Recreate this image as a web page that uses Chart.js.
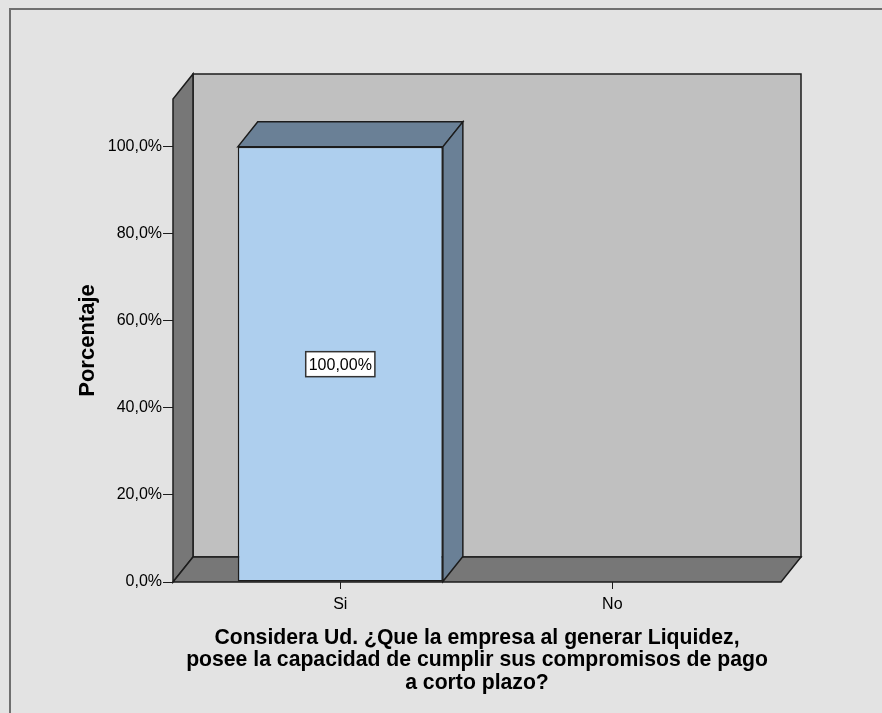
<!DOCTYPE html>
<html>
<head>
<meta charset="utf-8">
<script src="https://cdn.jsdelivr.net/npm/chart.js@4/dist/chart.umd.min.js"></script>
<style>
  html, body { margin: 0; padding: 0; background: #e3e3e3; overflow: hidden; }
  canvas { display: block; }
</style>
</head>
<body>
<canvas id="chart" width="882" height="713"></canvas>
<script>
// Survey answers and their share of respondents
const categories = ['Si', 'No'];
const percentages = [100, 0];
const yTickValues = [0, 20, 40, 60, 80, 100];
const yAxisTitle = 'Porcentaje';
const xAxisTitle = [
  'Considera Ud. ¿Que la empresa al generar Liquidez,',
  'posee la capacidad de cumplir sus compromisos de pago',
  'a corto plazo?'
];

// Depth of the 3D box and bars (pixels to the right / upwards)
const DX = 20, DY = 25;
const EDGE = '#1c1c1c';

const formatPct = (v, digits) => v.toFixed(digits).replace('.', ',') + '%';

function polygon(ctx, pts, fill) {
  ctx.beginPath();
  ctx.moveTo(pts[0][0], pts[0][1]);
  for (let i = 1; i < pts.length; i++) ctx.lineTo(pts[i][0], pts[i][1]);
  ctx.closePath();
  ctx.fillStyle = fill;
  ctx.fill();
  ctx.stroke();
}

const box3d = {
  id: 'box3d',
  beforeDraw(chart) {
    const { ctx, width, height } = chart;
    ctx.save();
    ctx.fillStyle = '#e3e3e3';
    ctx.fillRect(0, 0, width, height);
    // frame of the output panel (left and top edges)
    ctx.strokeStyle = '#6f6f6f';
    ctx.lineWidth = 2;
    ctx.beginPath();
    ctx.moveTo(10, height);
    ctx.lineTo(10, 9);
    ctx.lineTo(width, 9);
    ctx.stroke();
    ctx.restore();
  },
  beforeDatasetsDraw(chart) {
    const { ctx, chartArea: a } = chart;
    const L = a.left, R = a.right, T = a.top, B = a.bottom;
    ctx.save();
    ctx.lineJoin = 'miter';
    ctx.lineWidth = 1.5;
    ctx.strokeStyle = EDGE;
    // back wall
    polygon(ctx, [[L + DX, T - DY], [R + DX, T - DY], [R + DX, B - DY], [L + DX, B - DY]], '#c0c0c0');
    // left wall
    polygon(ctx, [[L, B], [L, T], [L + DX, T - DY], [L + DX, B - DY]], '#777777');
    // floor
    polygon(ctx, [[L, B], [L + DX, B - DY], [R + DX, B - DY], [R, B]], '#777777');
    ctx.restore();
  },
  afterDatasetsDraw(chart) {
    const { ctx } = chart;
    const meta = chart.getDatasetMeta(0);
    ctx.save();
    ctx.lineJoin = 'miter';
    ctx.lineWidth = 1.5;
    ctx.strokeStyle = EDGE;
    meta.data.forEach((bar, i) => {
      const v = percentages[i];
      if (!v) return;
      const { x, y, base, width } = bar.getProps(['x', 'y', 'base', 'width'], true);
      const l = x - width / 2, r = x + width / 2;
      // top face
      polygon(ctx, [[l, y], [l + DX, y - DY], [r + DX, y - DY], [r, y]], '#6a8096');
      // right side face
      polygon(ctx, [[r, y], [r + DX, y - DY], [r + DX, base - DY], [r, base]], '#6a8096');
    });
    // value labels in white boxes
    ctx.font = '16px "Liberation Sans", Arial, sans-serif';
    ctx.textAlign = 'center';
    ctx.textBaseline = 'middle';
    meta.data.forEach((bar, i) => {
      const v = percentages[i];
      if (!v) return;
      const { x, y, base } = bar.getProps(['x', 'y', 'base'], true);
      const cy = (y + base) / 2;
      const text = formatPct(v, 2);
      const w = ctx.measureText(text).width + 6;
      const h = 25;
      ctx.fillStyle = '#ffffff';
      ctx.fillRect(x - w / 2, cy - h / 2, w, h);
      ctx.strokeStyle = '#333333';
      ctx.lineWidth = 1.5;
      ctx.strokeRect(x - w / 2, cy - h / 2, w, h);
      ctx.fillStyle = '#000000';
      ctx.fillText(text, x, cy + 1);
    });
    ctx.restore();
  }
};

Chart.defaults.font.family = '"Liberation Sans", Arial, sans-serif';
Chart.defaults.color = '#000000';

new Chart(document.getElementById('chart'), {
  type: 'bar',
  data: {
    datasets: [{
      data: categories.map((c, i) => ({ x: i, y: percentages[i] })),
      backgroundColor: '#aecfee',
      borderColor: EDGE,
      borderWidth: (c) => (c.raw && c.raw.y > 0 ? 1.5 : 0),
      borderSkipped: false,
      categoryPercentage: 1,
      barPercentage: 0.754
    }]
  },
  options: {
    responsive: false,
    animation: false,
    events: [],
    layout: { padding: { left: 0, top: 99, right: 101, bottom: 0 } },
    plugins: { legend: { display: false }, tooltip: { enabled: false } },
    scales: {
      x: {
        type: 'linear',
        offset: false,
        min: -0.615,
        max: 1.62,
        afterFit(s) { s.height = 131; },
        afterBuildTicks(s) { s.ticks = categories.map((c, i) => ({ value: i })); },
        ticks: {
          callback: (v) => categories[v] ?? '',
          font: { size: 16 },
          padding: 6,
          maxRotation: 0,
          autoSkip: false
        },
        grid: { offset: false, drawOnChartArea: false, tickLength: 7, color: EDGE, lineWidth: 1 },
        border: { display: false },
        title: {
          display: true,
          text: xAxisTitle,
          font: { size: 21.2, weight: 'bold', lineHeight: 1.06 },
          padding: { top: 0, bottom: 19 }
        }
      },
      y: {
        min: 0,
        max: 111,
        afterFit(s) { s.width = 173; },
        afterBuildTicks(s) { s.ticks = yTickValues.map((v) => ({ value: v })); },
        ticks: {
          callback: (v) => formatPct(v, 1),
          font: { size: 16 },
          padding: 1
        },
        grid: { drawOnChartArea: false, tickLength: 10, color: EDGE, lineWidth: 1 },
        border: { display: false },
        title: {
          display: true,
          text: yAxisTitle,
          font: { size: 22, weight: 'bold' },
          padding: { top: 75, bottom: 0 }
        }
      }
    }
  },
  plugins: [box3d]
});
</script>
</body>
</html>
